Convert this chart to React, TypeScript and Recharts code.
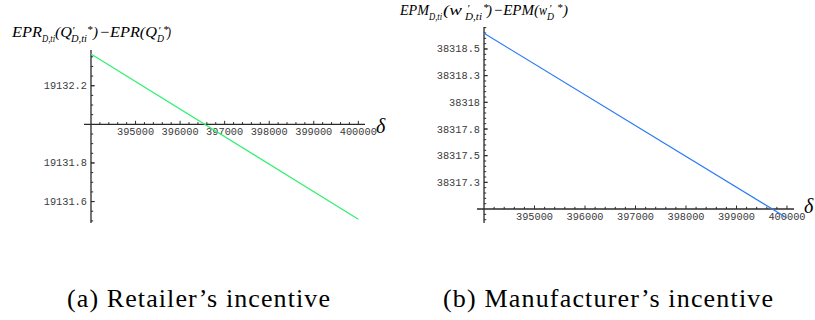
import React from 'react';
import { LineChart, Line, XAxis, YAxis, ReferenceLine } from 'recharts';

// ---- data ----
const deltaValues = [394000, 400000];
const retailerIncentive = [19132.364, 19131.509];
const manufacturerIncentive = [38318.647, 38316.916];

const deltaTickValues = [395000, 396000, 397000, 398000, 399000, 400000];
const deltaTickLabels = ['395000', '396000', '397000', '398000', '399000', '400000'];

const retailerTickValues = [19132.2, 19131.8, 19131.6];
const retailerTickLabels = ['19132.2', '19131.8', '19131.6'];

const manufacturerTickValues = [38318.5, 38318.25, 38318, 38317.75, 38317.5, 38317.25];
const manufacturerTickLabels = ['38318.5', '38318.3', '38318', '38317.8', '38317.5', '38317.3'];

const retailerData = deltaValues.map((d, i) => ({ delta: d, value: retailerIncentive[i] }));
const manufacturerData = deltaValues.map((d, i) => ({ delta: d, value: manufacturerIncentive[i] }));

const AXIS = '#2a2a2a';
const TICK_TEXT = '#3a3a3a';
const SERIF = 'Liberation Serif';

type PanelProps = {
  data: { delta: number; value: number }[];
  color: string;
  width: number;
  height: number;
  margin: { top: number; left: number; right: number; bottom: number };
  xDomain: [number, number];
  yDomain: [number, number];
  axisX: number;
  axisY: number;
  yTickValues: number[];
  yTickLabels: string[];
  yMajorStep: number;
  yMinorStep: number;
  xMinorStep: number;
};

function TickText(props: any) {
  const { viewBox, value, side } = props;
  if (!viewBox) return null;
  if (side === 'bottom') {
    return (
      <text
        x={viewBox.x + viewBox.width / 2}
        y={viewBox.y + viewBox.height + 11}
        textAnchor="middle"
        fill={TICK_TEXT}
        fontSize={10.3}
        fontFamily="Liberation Mono"
      >
        {value}
      </text>
    );
  }
  return (
    <text
      x={viewBox.x - 4}
      y={viewBox.y + 3.5}
      textAnchor="end"
      fill={TICK_TEXT}
      fontSize={10.3}
      fontFamily="Liberation Mono"
    >
      {value}
    </text>
  );
}

function Panel(p: PanelProps) {
  const plotW = p.width - p.margin.left - p.margin.right;
  const plotH = p.height - p.margin.top - p.margin.bottom;
  const xPerPx = (p.xDomain[1] - p.xDomain[0]) / plotW;
  const yPerPx = (p.yDomain[1] - p.yDomain[0]) / plotH;

  const xMinor: number[] = [];
  for (let k = 1; p.axisX + k * p.xMinorStep <= p.xDomain[1]; k++) {
    const v = p.axisX + k * p.xMinorStep;
    if (!deltaTickValues.includes(v)) xMinor.push(v);
  }
  const yMinor: { v: number; major: boolean }[] = [];
  const kMin = Math.ceil((p.yDomain[0] - p.axisY) / p.yMinorStep - 1e-6);
  const kMax = Math.floor((p.yDomain[1] - p.axisY) / p.yMinorStep + 1e-6);
  const ratio = Math.round(p.yMajorStep / p.yMinorStep);
  for (let k = kMin; k <= kMax; k++) {
    if (k === 0) continue;
    const major = k % ratio === 0;
    yMinor.push({ v: p.axisY + k * p.yMinorStep, major });
  }

  return (
    <LineChart width={p.width} height={p.height} data={p.data} margin={p.margin}>
      <XAxis type="number" dataKey="delta" domain={p.xDomain} allowDataOverflow hide />
      <YAxis type="number" domain={p.yDomain} allowDataOverflow hide />
      <ReferenceLine y={p.axisY} stroke={AXIS} strokeWidth={1.3} />
      <ReferenceLine x={p.axisX} stroke={AXIS} strokeWidth={1.3} />
      {xMinor.map((v) => (
        <ReferenceLine
          key={'xm' + v}
          segment={[{ x: v, y: p.axisY }, { x: v, y: p.axisY + 2.2 * yPerPx }]}
          stroke={AXIS}
          strokeWidth={1}
        />
      ))}
      {deltaTickValues.map((v, i) => (
        <ReferenceLine
          key={'xt' + v}
          segment={[{ x: v, y: p.axisY }, { x: v, y: p.axisY + 3.5 * yPerPx }]}
          stroke={AXIS}
          strokeWidth={1}
          label={(lp: any) => <TickText {...lp} value={deltaTickLabels[i]} side="bottom" />}
        />
      ))}
      {yMinor.map((t) => (
        <ReferenceLine
          key={'ym' + t.v}
          segment={[{ x: p.axisX, y: t.v }, { x: p.axisX + (t.major ? 3.5 : 2.2) * xPerPx, y: t.v }]}
          stroke={AXIS}
          strokeWidth={1}
        />
      ))}
      {p.yTickValues.map((v, i) => (
        <ReferenceLine
          key={'yt' + v}
          segment={[{ x: p.axisX, y: v }, { x: p.axisX + 3.5 * xPerPx, y: v }]}
          stroke={AXIS}
          strokeWidth={1}
          label={(lp: any) => <TickText {...lp} value={p.yTickLabels[i]} side="left" />}
        />
      ))}
      <Line
        type="linear"
        dataKey="value"
        stroke={p.color}
        strokeWidth={1.2}
        dot={false}
        isAnimationActive={false}
      />
    </LineChart>
  );
}

// A piece of math text; optional textLength forces its width.
function M(props: { x: number; y: number; s: number; w?: number; up?: boolean; children: React.ReactNode }) {
  return (
    <text
      x={props.x}
      y={props.y}
      fontSize={props.s}
      fontFamily={SERIF}
      fontStyle={props.up ? 'normal' : 'italic'}
      fill="#000"
      textLength={props.w}
      lengthAdjust={props.w ? 'spacingAndGlyphs' : undefined}
    >
      {props.children}
    </text>
  );
}

export default function App() {
  return (
    <div
      style={{
        position: 'absolute',
        left: 0,
        top: 0,
        width: 815,
        height: 320,
        background: '#fff',
        overflow: 'hidden',
      }}
    >
      <div style={{ position: 'absolute', left: 0, top: 0 }}>
        <Panel
          data={retailerData}
          color="#2ef070"
          width={400}
          height={320}
          margin={{ top: 50, left: 84, right: 35, bottom: 97 }}
          xDomain={[393843, 400150]}
          yDomain={[19131.489, 19132.385]}
          axisX={394000}
          axisY={19132}
          yTickValues={retailerTickValues}
          yTickLabels={retailerTickLabels}
          yMajorStep={0.2}
          yMinorStep={0.05}
          xMinorStep={200}
        />
      </div>
      <div style={{ position: 'absolute', left: 400, top: 0 }}>
        <Panel
          data={manufacturerData}
          color="#2a7bf5"
          width={415}
          height={320}
          margin={{ top: 27, left: 77, right: 21, bottom: 97 }}
          xDomain={[393861, 400139]}
          yDomain={[38316.869, 38318.706]}
          axisX={394000}
          axisY={38317}
          yTickValues={manufacturerTickValues}
          yTickLabels={manufacturerTickLabels}
          yMajorStep={0.25}
          yMinorStep={0.05}
          xMinorStep={200}
        />
      </div>
      <svg
        width={815}
        height={320}
        style={{ position: 'absolute', left: 0, top: 0, pointerEvents: 'none' }}
      >
        {/* left title: EPR_{D,ti}(Q'_{D,ti}*) − EPR(Q'_D*) */}
        <M x={12} y={37} s={15} w={30}>EPR</M>
        <M x={42} y={42} s={10} w={13}>D,ti</M>
        <M x={55} y={37} s={15} w={17}>(Q</M>
        <M x={72} y={34} s={11}>′</M>
        <M x={71} y={42} s={10} w={16}>D,ti</M>
        <M x={87} y={33} s={11}>*</M>
        <M x={93} y={37} s={15} w={5}>)</M>
        <M x={99} y={37} s={15} w={58}>−EPR(Q</M>
        <M x={158} y={34} s={11}>′</M>
        <M x={157} y={42} s={10} w={7}>D</M>
        <M x={163} y={33} s={11}>*</M>
        <M x={167} y={37} s={15} w={4}>)</M>

        {/* right title: EPM_{D,ti}(w'_{D,ti}*) − EPM(w'_D*) */}
        <M x={400} y={15} s={15} w={29}>EPM</M>
        <M x={429} y={20} s={10} w={13}>D,ti</M>
        <M x={443} y={15} s={15} w={19}>(w</M>
        <M x={467} y={12} s={11}>′</M>
        <M x={465} y={20} s={10} w={17}>D,ti</M>
        <M x={483} y={11} s={11}>*</M>
        <M x={487} y={15} s={15} w={5}>)</M>
        <M x={493} y={15} s={15} w={46}>−EPM(</M>
        <M x={539} y={15} s={15} w={8}>w</M>
        <M x={549} y={12} s={11}>′</M>
        <M x={547} y={20} s={10} w={7}>D</M>
        <M x={557} y={11} s={11}>*</M>
        <M x={563} y={15} s={15} w={5}>)</M>

        {/* delta axis labels */}
        <M x={376} y={133} s={20}>δ</M>
        <M x={804} y={213} s={20}>δ</M>

        {/* captions */}
        <text x={67} y={307} fontSize={26} fontFamily={SERIF} fill="#000" textLength={263} lengthAdjust="spacing">
          (a) Retailer’s incentive
        </text>
        <text x={443} y={307} fontSize={26} fontFamily={SERIF} fill="#000" textLength={330} lengthAdjust="spacing">
          (b) Manufacturer’s incentive
        </text>
      </svg>
    </div>
  );
}
